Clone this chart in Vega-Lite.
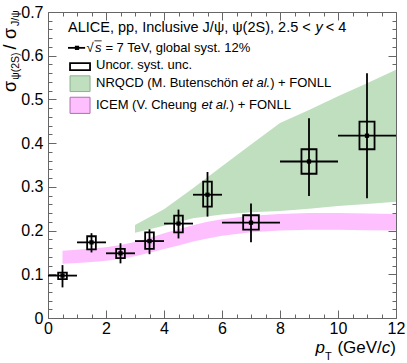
{
  "$schema": "https://vega.github.io/schema/vega-lite/v6.json",
  "width": 348,
  "height": 306,
  "autosize": {"type": "none"},
  "padding": {"left": 48, "top": 12, "right": 11, "bottom": 45},
  "background": "white",
  "data": {"values": [{"one": 1}]},
  "config": {
    "view": {"stroke": null},
    "font": "Liberation Sans",
    "text": {"font": "Liberation Sans", "color": "#000"},
    "axis": {"labelFont": "Liberation Sans", "labelFontSize": 16, "labelColor": "#000", "tickColor": "#666", "domainColor": "#666", "grid": false, "title": null, "labelFlush": false, "labelOverlap": false, "tickWidth": 1, "domainWidth": 1}
  },
  "datasets": {
    "pts": [
      {"pt": 0.5, "xlo": 0, "xhi": 1, "r": 0.097, "elo": 0.070, "ehi": 0.121, "blo": 0.089, "bhi": 0.104, "bxlo": 0.35, "bxhi": 0.65},
      {"pt": 1.5, "xlo": 1, "xhi": 2, "r": 0.173, "elo": 0.150, "ehi": 0.194, "blo": 0.157, "bhi": 0.187, "bxlo": 1.35, "bxhi": 1.65},
      {"pt": 2.5, "xlo": 2, "xhi": 3, "r": 0.148, "elo": 0.125, "ehi": 0.171, "blo": 0.137, "bhi": 0.158, "bxlo": 2.35, "bxhi": 2.65},
      {"pt": 3.5, "xlo": 3, "xhi": 4, "r": 0.176, "elo": 0.146, "ehi": 0.203, "blo": 0.158, "bhi": 0.196, "bxlo": 3.35, "bxhi": 3.65},
      {"pt": 4.5, "xlo": 4, "xhi": 5, "r": 0.216, "elo": 0.182, "ehi": 0.248, "blo": 0.196, "bhi": 0.234, "bxlo": 4.35, "bxhi": 4.65},
      {"pt": 5.5, "xlo": 5, "xhi": 6, "r": 0.282, "elo": 0.232, "ehi": 0.334, "blo": 0.255, "bhi": 0.312, "bxlo": 5.35, "bxhi": 5.65},
      {"pt": 7, "xlo": 6, "xhi": 8, "r": 0.218, "elo": 0.173, "ehi": 0.262, "blo": 0.202, "bhi": 0.235, "bxlo": 6.73, "bxhi": 7.27},
      {"pt": 9, "xlo": 8, "xhi": 10, "r": 0.358, "elo": 0.279, "ehi": 0.457, "blo": 0.330, "bhi": 0.386, "bxlo": 8.74, "bxhi": 9.26},
      {"pt": 11, "xlo": 10, "xhi": 12, "r": 0.417, "elo": 0.274, "ehi": 0.560, "blo": 0.386, "bhi": 0.449, "bxlo": 10.74, "bxhi": 11.26}
    ],
    "nrqcd": [
      {"x": 3, "lo": 0.195, "hi": 0.213},
      {"x": 4, "lo": 0.211, "hi": 0.249},
      {"x": 5, "lo": 0.228, "hi": 0.297},
      {"x": 6, "lo": 0.237, "hi": 0.347},
      {"x": 7, "lo": 0.242, "hi": 0.397},
      {"x": 8, "lo": 0.245, "hi": 0.446},
      {"x": 9, "lo": 0.250, "hi": 0.476},
      {"x": 10, "lo": 0.256, "hi": 0.507},
      {"x": 11, "lo": 0.261, "hi": 0.537},
      {"x": 12, "lo": 0.266, "hi": 0.568}
    ],
    "icem": [
      {"x": 0.5, "lo": 0.124, "hi": 0.154},
      {"x": 1, "lo": 0.126, "hi": 0.156},
      {"x": 1.5, "lo": 0.128, "hi": 0.159},
      {"x": 2, "lo": 0.131, "hi": 0.162},
      {"x": 2.5, "lo": 0.135, "hi": 0.167},
      {"x": 3, "lo": 0.141, "hi": 0.174},
      {"x": 3.5, "lo": 0.149, "hi": 0.183},
      {"x": 4, "lo": 0.158, "hi": 0.194},
      {"x": 4.5, "lo": 0.166, "hi": 0.203},
      {"x": 5, "lo": 0.175, "hi": 0.212},
      {"x": 5.5, "lo": 0.182, "hi": 0.220},
      {"x": 6, "lo": 0.188, "hi": 0.226},
      {"x": 7, "lo": 0.196, "hi": 0.234},
      {"x": 8, "lo": 0.200, "hi": 0.238},
      {"x": 9, "lo": 0.202, "hi": 0.240},
      {"x": 10, "lo": 0.202, "hi": 0.240},
      {"x": 11, "lo": 0.201, "hi": 0.239},
      {"x": 12, "lo": 0.200, "hi": 0.238}
    ]
  },
  "layer": [
    {
      "data": {"name": "nrqcd"},
      "mark": {"type": "area", "color": "#bfdfbf", "opacity": 1},
      "encoding": {
        "x": {"field": "x", "type": "quantitative", "scale": {"domain": [0, 12], "nice": false, "zero": false},
          "axis": {"orient": "bottom", "values": [0,0.5,1,1.5,2,2.5,3,3.5,4,4.5,5,5.5,6,6.5,7,7.5,8,8.5,9,9.5,10,10.5,11,11.5,12],
            "tickSize": {"expr": "datum.value % 2 === 0 ? -8 : -4"}, "labelPadding": 10,
            "labelExpr": "datum.value % 2 === 0 ? format(datum.value, 'd') : ''"}},
        "y": {"field": "lo", "type": "quantitative", "scale": {"domain": [0, 0.7], "nice": false, "zero": false},
          "axis": {"orient": "left", "values": [0,0.02,0.04,0.06,0.08,0.1,0.12,0.14,0.16,0.18,0.2,0.22,0.24,0.26,0.28,0.3,0.32,0.34,0.36,0.38,0.4,0.42,0.44,0.46,0.48,0.5,0.52,0.54,0.56,0.58,0.6,0.62,0.64,0.66,0.68,0.7],
            "tickSize": {"expr": "abs(datum.value*10 - round(datum.value*10)) < 0.001 ? -8 : -4"}, "labelPadding": 13,
            "labelExpr": "abs(datum.value*10 - round(datum.value*10)) < 0.001 ? (datum.value == 0 ? '0' : format(datum.value, '.1f')) : ''"}},
        "y2": {"field": "hi"}
      }
    },
    {
      "data": {"name": "pts"},
      "mark": {"type": "point", "opacity": 0},
      "encoding": {
        "x": {"field": "pt", "type": "quantitative",
          "axis": {"orient": "top", "values": [0,0.5,1,1.5,2,2.5,3,3.5,4,4.5,5,5.5,6,6.5,7,7.5,8,8.5,9,9.5,10,10.5,11,11.5,12],
            "tickSize": {"expr": "datum.value % 2 === 0 ? -8 : -4"}, "labels": false}},
        "y": {"field": "r", "type": "quantitative",
          "axis": {"orient": "right", "values": [0,0.02,0.04,0.06,0.08,0.1,0.12,0.14,0.16,0.18,0.2,0.22,0.24,0.26,0.28,0.3,0.32,0.34,0.36,0.38,0.4,0.42,0.44,0.46,0.48,0.5,0.52,0.54,0.56,0.58,0.6,0.62,0.64,0.66,0.68,0.7],
            "tickSize": {"expr": "abs(datum.value*10 - round(datum.value*10)) < 0.001 ? -8 : -4"}, "labels": false}}
      }
    },
    {
      "data": {"name": "icem"},
      "mark": {"type": "area", "color": "#fdbffd", "opacity": 1},
      "encoding": {
        "x": {"field": "x", "type": "quantitative", "axis": null},
        "y": {"field": "lo", "type": "quantitative", "axis": null},
        "y2": {"field": "hi"}
      }
    },
    {
      "data": {"name": "pts"},
      "mark": {"type": "rule", "color": "#000", "strokeWidth": 1.8},
      "encoding": {
        "x": {"field": "pt", "type": "quantitative", "axis": null},
        "y": {"field": "elo", "type": "quantitative", "axis": null},
        "y2": {"field": "ehi"}
      }
    },
    {
      "data": {"name": "pts"},
      "mark": {"type": "rule", "color": "#000", "strokeWidth": 1.8},
      "encoding": {
        "x": {"field": "xlo", "type": "quantitative", "axis": null},
        "x2": {"field": "xhi"},
        "y": {"field": "r", "type": "quantitative", "axis": null}
      }
    },
    {
      "data": {"name": "pts"},
      "mark": {"type": "rect", "fillOpacity": 0, "stroke": "#000", "strokeWidth": 1.8},
      "encoding": {
        "x": {"field": "bxlo", "type": "quantitative", "axis": null},
        "x2": {"field": "bxhi"},
        "y": {"field": "blo", "type": "quantitative", "axis": null},
        "y2": {"field": "bhi"}
      }
    },
    {
      "data": {"name": "pts"},
      "mark": {"type": "point", "shape": "square", "filled": true, "color": "#000", "size": 18, "opacity": 1},
      "encoding": {
        "x": {"field": "pt", "type": "quantitative", "axis": null},
        "y": {"field": "r", "type": "quantitative", "axis": null}
      }
    },
    {
      "mark": {"type": "rule", "color": "#000", "strokeWidth": 1.8},
      "encoding": {
        "x": {"datum": 0.69, "type": "quantitative", "axis": null},
        "x2": {"datum": 1.28},
        "y": {"datum": 0.618, "type": "quantitative", "axis": null}
      }
    },
    {
      "mark": {"type": "point", "shape": "square", "filled": true, "color": "#000", "size": 18, "opacity": 1},
      "encoding": {
        "x": {"datum": 1.0, "type": "quantitative", "axis": null},
        "y": {"datum": 0.618, "type": "quantitative", "axis": null}
      }
    },
    {
      "mark": {"type": "rule", "color": "#000", "strokeWidth": 0.8},
      "encoding": {
        "x": {"datum": 1.6, "type": "quantitative", "axis": null},
        "x2": {"datum": 1.85},
        "y": {"datum": 0.634, "type": "quantitative", "axis": null}
      }
    },
    {
      "mark": {"type": "rect", "fillOpacity": 0, "stroke": "#000", "strokeWidth": 1.8},
      "encoding": {
        "x": {"datum": 0.76, "type": "quantitative", "axis": null},
        "x2": {"datum": 1.45},
        "y": {"datum": 0.567, "type": "quantitative", "axis": null},
        "y2": {"datum": 0.583}
      }
    },
    {
      "mark": {"type": "rect", "fill": "#bfdfbf", "stroke": "#8fb08f", "strokeWidth": 1},
      "encoding": {
        "x": {"datum": 0.76, "type": "quantitative", "axis": null},
        "x2": {"datum": 1.45},
        "y": {"datum": 0.518, "type": "quantitative", "axis": null},
        "y2": {"datum": 0.554}
      }
    },
    {
      "mark": {"type": "rect", "fill": "#fdbffd", "stroke": "#b070b0", "strokeWidth": 1},
      "encoding": {
        "x": {"datum": 0.76, "type": "quantitative", "axis": null},
        "x2": {"datum": 1.45},
        "y": {"datum": 0.468, "type": "quantitative", "axis": null},
        "y2": {"datum": 0.505}
      }
    },
    {
      "mark": {"type": "text", "align": "left", "baseline": "alphabetic", "fontSize": 14.5, "text": "ALICE, pp, Inclusive J/ψ, ψ(2S), 2.5 <"},
      "encoding": {"x": {"datum": 0.69, "type": "quantitative", "axis": null}, "y": {"datum": 0.654, "type": "quantitative", "axis": null}}
    },
    {
      "mark": {"type": "text", "align": "left", "baseline": "alphabetic", "fontSize": 14.5, "fontStyle": "italic", "text": "y"},
      "encoding": {"x": {"datum": 9.22, "type": "quantitative", "axis": null}, "y": {"datum": 0.654, "type": "quantitative", "axis": null}}
    },
    {
      "mark": {"type": "text", "align": "left", "baseline": "alphabetic", "fontSize": 14.5, "text": "< 4"},
      "encoding": {"x": {"datum": 9.58, "type": "quantitative", "axis": null}, "y": {"datum": 0.654, "type": "quantitative", "axis": null}}
    },
    {
      "mark": {"type": "text", "align": "left", "baseline": "alphabetic", "fontSize": 13, "text": "√"},
      "encoding": {"x": {"datum": 1.33, "type": "quantitative", "axis": null}, "y": {"datum": 0.609, "type": "quantitative", "axis": null}}
    },
    {
      "mark": {"type": "text", "align": "left", "baseline": "alphabetic", "fontSize": 13, "fontStyle": "italic", "text": "s"},
      "encoding": {"x": {"datum": 1.62, "type": "quantitative", "axis": null}, "y": {"datum": 0.609, "type": "quantitative", "axis": null}}
    },
    {
      "mark": {"type": "text", "align": "left", "baseline": "alphabetic", "fontSize": 13, "text": "= 7 TeV, global syst. 12%"},
      "encoding": {"x": {"datum": 1.98, "type": "quantitative", "axis": null}, "y": {"datum": 0.609, "type": "quantitative", "axis": null}}
    },
    {
      "mark": {"type": "text", "align": "left", "baseline": "alphabetic", "fontSize": 13, "text": "Uncor. syst. unc."},
      "encoding": {"x": {"datum": 1.655, "type": "quantitative", "axis": null}, "y": {"datum": 0.569, "type": "quantitative", "axis": null}}
    },
    {
      "mark": {"type": "text", "align": "left", "baseline": "alphabetic", "fontSize": 13, "text": "NRQCD (M. Butenschön"},
      "encoding": {"x": {"datum": 1.655, "type": "quantitative", "axis": null}, "y": {"datum": 0.529, "type": "quantitative", "axis": null}}
    },
    {
      "mark": {"type": "text", "align": "left", "baseline": "alphabetic", "fontSize": 13, "fontStyle": "italic", "text": "et al."},
      "encoding": {"x": {"datum": 6.69, "type": "quantitative", "axis": null}, "y": {"datum": 0.529, "type": "quantitative", "axis": null}}
    },
    {
      "mark": {"type": "text", "align": "left", "baseline": "alphabetic", "fontSize": 13, "text": ") + FONLL"},
      "encoding": {"x": {"datum": 7.66, "type": "quantitative", "axis": null}, "y": {"datum": 0.529, "type": "quantitative", "axis": null}}
    },
    {
      "mark": {"type": "text", "align": "left", "baseline": "alphabetic", "fontSize": 13, "text": "ICEM (V. Cheung"},
      "encoding": {"x": {"datum": 1.655, "type": "quantitative", "axis": null}, "y": {"datum": 0.478, "type": "quantitative", "axis": null}}
    },
    {
      "mark": {"type": "text", "align": "left", "baseline": "alphabetic", "fontSize": 13, "fontStyle": "italic", "text": "et al."},
      "encoding": {"x": {"datum": 5.29, "type": "quantitative", "axis": null}, "y": {"datum": 0.478, "type": "quantitative", "axis": null}}
    },
    {
      "mark": {"type": "text", "align": "left", "baseline": "alphabetic", "fontSize": 13, "text": ") + FONLL"},
      "encoding": {"x": {"datum": 6.27, "type": "quantitative", "axis": null}, "y": {"datum": 0.478, "type": "quantitative", "axis": null}}
    },
    {
      "mark": {"type": "text", "align": "right", "baseline": "alphabetic", "fontSize": 17, "text": ")"},
      "encoding": {"x": {"datum": 12, "type": "quantitative", "axis": null}, "y": {"datum": -0.080, "type": "quantitative", "axis": null}}
    },
    {
      "mark": {"type": "text", "align": "right", "baseline": "alphabetic", "fontSize": 17, "fontStyle": "italic", "text": "c"},
      "encoding": {"x": {"datum": 11.80, "type": "quantitative", "axis": null}, "y": {"datum": -0.080, "type": "quantitative", "axis": null}}
    },
    {
      "mark": {"type": "text", "align": "right", "baseline": "alphabetic", "fontSize": 17, "text": "(GeV/"},
      "encoding": {"x": {"datum": 11.51, "type": "quantitative", "axis": null}, "y": {"datum": -0.080, "type": "quantitative", "axis": null}}
    },
    {
      "mark": {"type": "text", "align": "left", "baseline": "alphabetic", "fontSize": 17, "fontStyle": "italic", "text": "p"},
      "encoding": {"x": {"datum": 9.22, "type": "quantitative", "axis": null}, "y": {"datum": -0.080, "type": "quantitative", "axis": null}}
    },
    {
      "mark": {"type": "text", "align": "left", "baseline": "alphabetic", "fontSize": 11, "text": "T"},
      "encoding": {"x": {"datum": 9.55, "type": "quantitative", "axis": null}, "y": {"datum": -0.097, "type": "quantitative", "axis": null}}
    },
    {
      "mark": {"type": "text", "align": "left", "baseline": "alphabetic", "fontSize": 18, "angle": 270, "text": "σ"},
      "encoding": {"x": {"datum": -1.103, "type": "quantitative", "axis": null}, "y": {"datum": 0.517, "type": "quantitative", "axis": null}}
    },
    {
      "mark": {"type": "text", "align": "left", "baseline": "alphabetic", "fontSize": 10.5, "angle": 270, "text": "ψ(2S)"},
      "encoding": {"x": {"datum": -0.983, "type": "quantitative", "axis": null}, "y": {"datum": 0.545, "type": "quantitative", "axis": null}}
    },
    {
      "mark": {"type": "text", "align": "left", "baseline": "alphabetic", "fontSize": 18, "angle": 270, "text": "/"},
      "encoding": {"x": {"datum": -1.103, "type": "quantitative", "axis": null}, "y": {"datum": 0.614, "type": "quantitative", "axis": null}}
    },
    {
      "mark": {"type": "text", "align": "left", "baseline": "alphabetic", "fontSize": 18, "angle": 270, "text": "σ"},
      "encoding": {"x": {"datum": -1.103, "type": "quantitative", "axis": null}, "y": {"datum": 0.638, "type": "quantitative", "axis": null}}
    },
    {
      "mark": {"type": "text", "align": "left", "baseline": "alphabetic", "fontSize": 10.5, "angle": 270, "text": "J/ψ"},
      "encoding": {"x": {"datum": -0.983, "type": "quantitative", "axis": null}, "y": {"datum": 0.668, "type": "quantitative", "axis": null}}
    }
  ],
  "resolve": {"axis": {"x": "independent", "y": "independent"}}
}
